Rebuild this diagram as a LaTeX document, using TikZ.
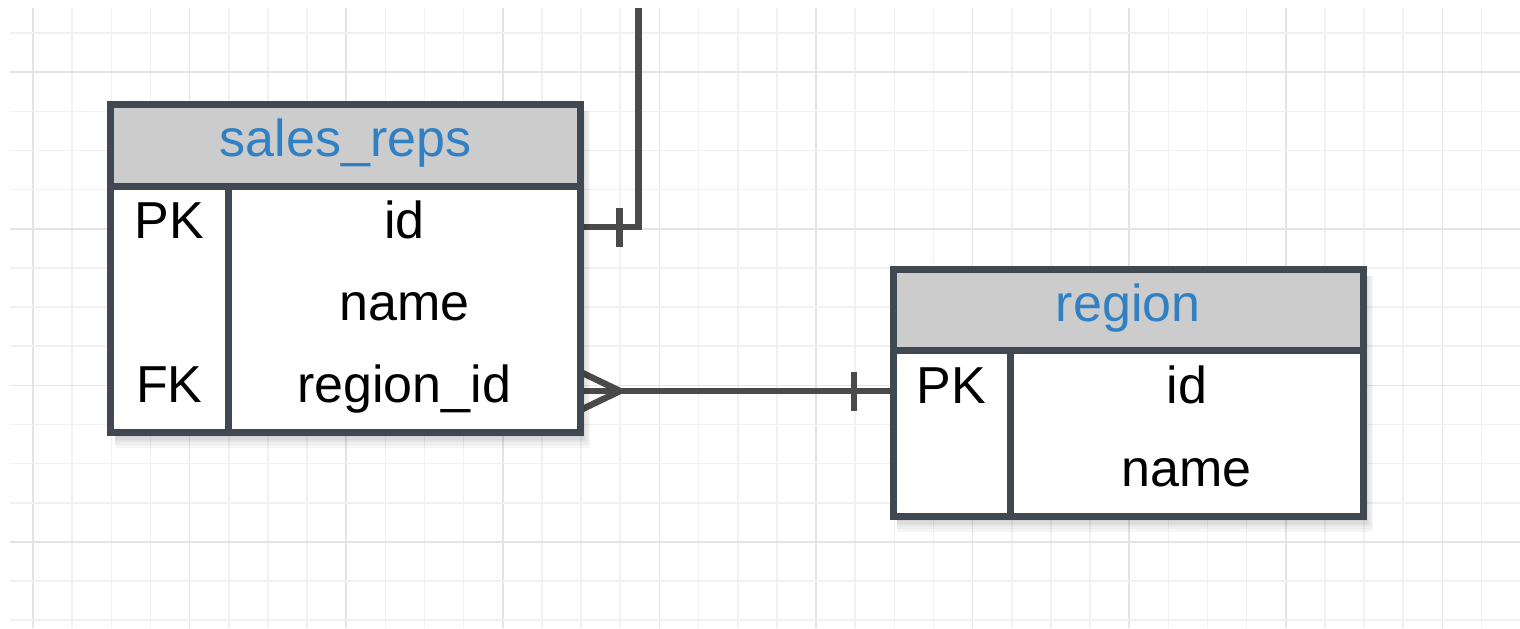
\documentclass[tikz,border=0pt]{standalone}
\usepackage{fontspec}
\setmainfont{Liberation Sans}
\usetikzlibrary{calc}
\definecolor{bordercol}{HTML}{404852}
\definecolor{conncol}{HTML}{4A4A4A}
\definecolor{hdrfill}{HTML}{CCCCCC}
\definecolor{titleblue}{HTML}{3080C3}
\definecolor{gridminor}{HTML}{F1F1F1}
\definecolor{gridmajor}{HTML}{E4E4E4}
\tikzset{
  tablebg/.style={rectangle, fill=white, inner sep=0pt, outer sep=0pt},
  softshadow/.style={fill=black, fill opacity=0.035},
  hdrbox/.style={rectangle, fill=hdrfill, inner sep=0pt, outer sep=0pt},
  cell/.style={rectangle, inner sep=0pt, outer sep=0pt, text height=16.5pt, text depth=5pt,
    font=\fontsize{26}{31}\selectfont, text=black},
  title/.style={cell, text=titleblue},
  border/.style={draw=bordercol, line width=3.5pt},
  conn/.style={draw=conncol, line width=3.2pt},
}
\begin{document}
\begin{tikzpicture}[x=0.5pt,y=-0.5pt]
\useasboundingbox (0,0) rectangle (1520,628);
\fill[white] (0,0) rectangle (1520,628);
% grid
\foreach \k in {0,...,37}{
  \pgfmathsetmacro{\gx}{33+39.15*\k}
  \pgfmathtruncatemacro{\m}{mod(\k,4)}
  \ifnum\m=0 \draw[gridmajor, line width=0.8pt] (\gx,8) -- (\gx,628);
  \else \draw[gridminor, line width=0.8pt] (\gx,8) -- (\gx,628); \fi
}
\foreach \k in {0,...,15}{
  \pgfmathsetmacro{\gy}{33+39.15*\k}
  \pgfmathtruncatemacro{\m}{mod(\k,4)}
  \ifnum\m=1 \draw[gridmajor, line width=0.8pt] (10,\gy) -- (1520,\gy);
  \else \draw[gridminor, line width=0.8pt] (10,\gy) -- (1520,\gy); \fi
}

% ---------- placement nodes (invisible) for rows ----------
% sales_reps: x 110.5..580.5, header 104.5..186, rows of 82
\node[cell, minimum width=58.75pt, minimum height=41pt] (sr-pk) at (169.25,227) {};
\node[cell, minimum width=176.25pt, minimum height=41pt] (sr-id) at (404.25,227) {};
\node[cell, minimum width=176.25pt, minimum height=41pt] (sr-rid) at (404.25,391) {};
% region: x 893..1363.5, header 269.5..350, rows of 83
\node[cell, minimum width=58.5pt, minimum height=41.5pt] (rg-pk) at (951.5,391.5) {};

% ---------- connectors ----------
\coordinate (topend) at (638.5,8);
\draw[conn] (sr-id.east) -| (topend);
\draw[conn] ($(sr-id.east)+(39,-19.5)$) -- ($(sr-id.east)+(39,19.5)$);
\draw[conn] (sr-rid.east) -- (sr-rid.east -| rg-pk.west);
\draw[conn] ($(sr-rid.east)+(0,-19)$) -- ($(sr-rid.east)+(39.5,0)$) -- ($(sr-rid.east)+(0,19)$);
\draw[conn] ($(sr-rid.east -| rg-pk.west)+(-39,-19.5)$) -- ($(sr-rid.east -| rg-pk.west)+(-39,19.5)$);

% ---------- table sales_reps ----------
\node[tablebg, minimum width=235pt, minimum height=163.75pt] (sr) at (345.5,268.25) {};
\foreach \i in {1,...,6}{
  \fill[softshadow] ($(sr.north west)+(4,6)$) rectangle ($(sr.south east)+(1.6*\i,2.6*\i)$);
}
\fill[white] (sr.north west) rectangle (sr.south east);
\node[hdrbox, minimum width=235pt, minimum height=40.75pt, anchor=north] (sr-h) at (sr.north) {};
\node[title] (sr-title) at (sr-h.center) {sales\_reps};
\node[cell] (sr-pkt) at (sr-pk.center) {PK};
\node[cell] (sr-idt) at (sr-id.center) {id};
\node[cell] (sr-name) at (404.25,309) {name};
\node[cell] (sr-fk) at (169.25,391) {FK};
\node[cell] (sr-ridt) at (sr-rid.center) {region\_id};
\draw[border] (sr-h.south west) -- (sr-h.south east);
\draw[border] (sr-pk.north east) -- (sr-pk.east |- sr.south);
\draw[border] (sr.north west) rectangle (sr.south east);

% ---------- table region ----------
\node[tablebg, minimum width=235.25pt, minimum height=123.25pt] (rg) at (1128.25,392.75) {};
\foreach \i in {1,...,6}{
  \fill[softshadow] ($(rg.north west)+(4,6)$) rectangle ($(rg.south east)+(1.6*\i,2.6*\i)$);
}
\fill[white] (rg.north west) rectangle (rg.south east);
\node[hdrbox, minimum width=235.25pt, minimum height=40.25pt, anchor=north] (rg-h) at (rg.north) {};
\node[title] (rg-title) at (rg-h.center) {region};
\node[cell] (rg-pkt) at (rg-pk.center) {PK};
\node[cell] (rg-id) at (1186.75,391.5) {id};
\node[cell] (rg-name) at (1186.75,474.5) {name};
\draw[border] (rg-h.south west) -- (rg-h.south east);
\draw[border] (rg-pk.north east) -- (rg-pk.east |- rg.south);
\draw[border] (rg.north west) rectangle (rg.south east);
\end{tikzpicture}
\end{document}
